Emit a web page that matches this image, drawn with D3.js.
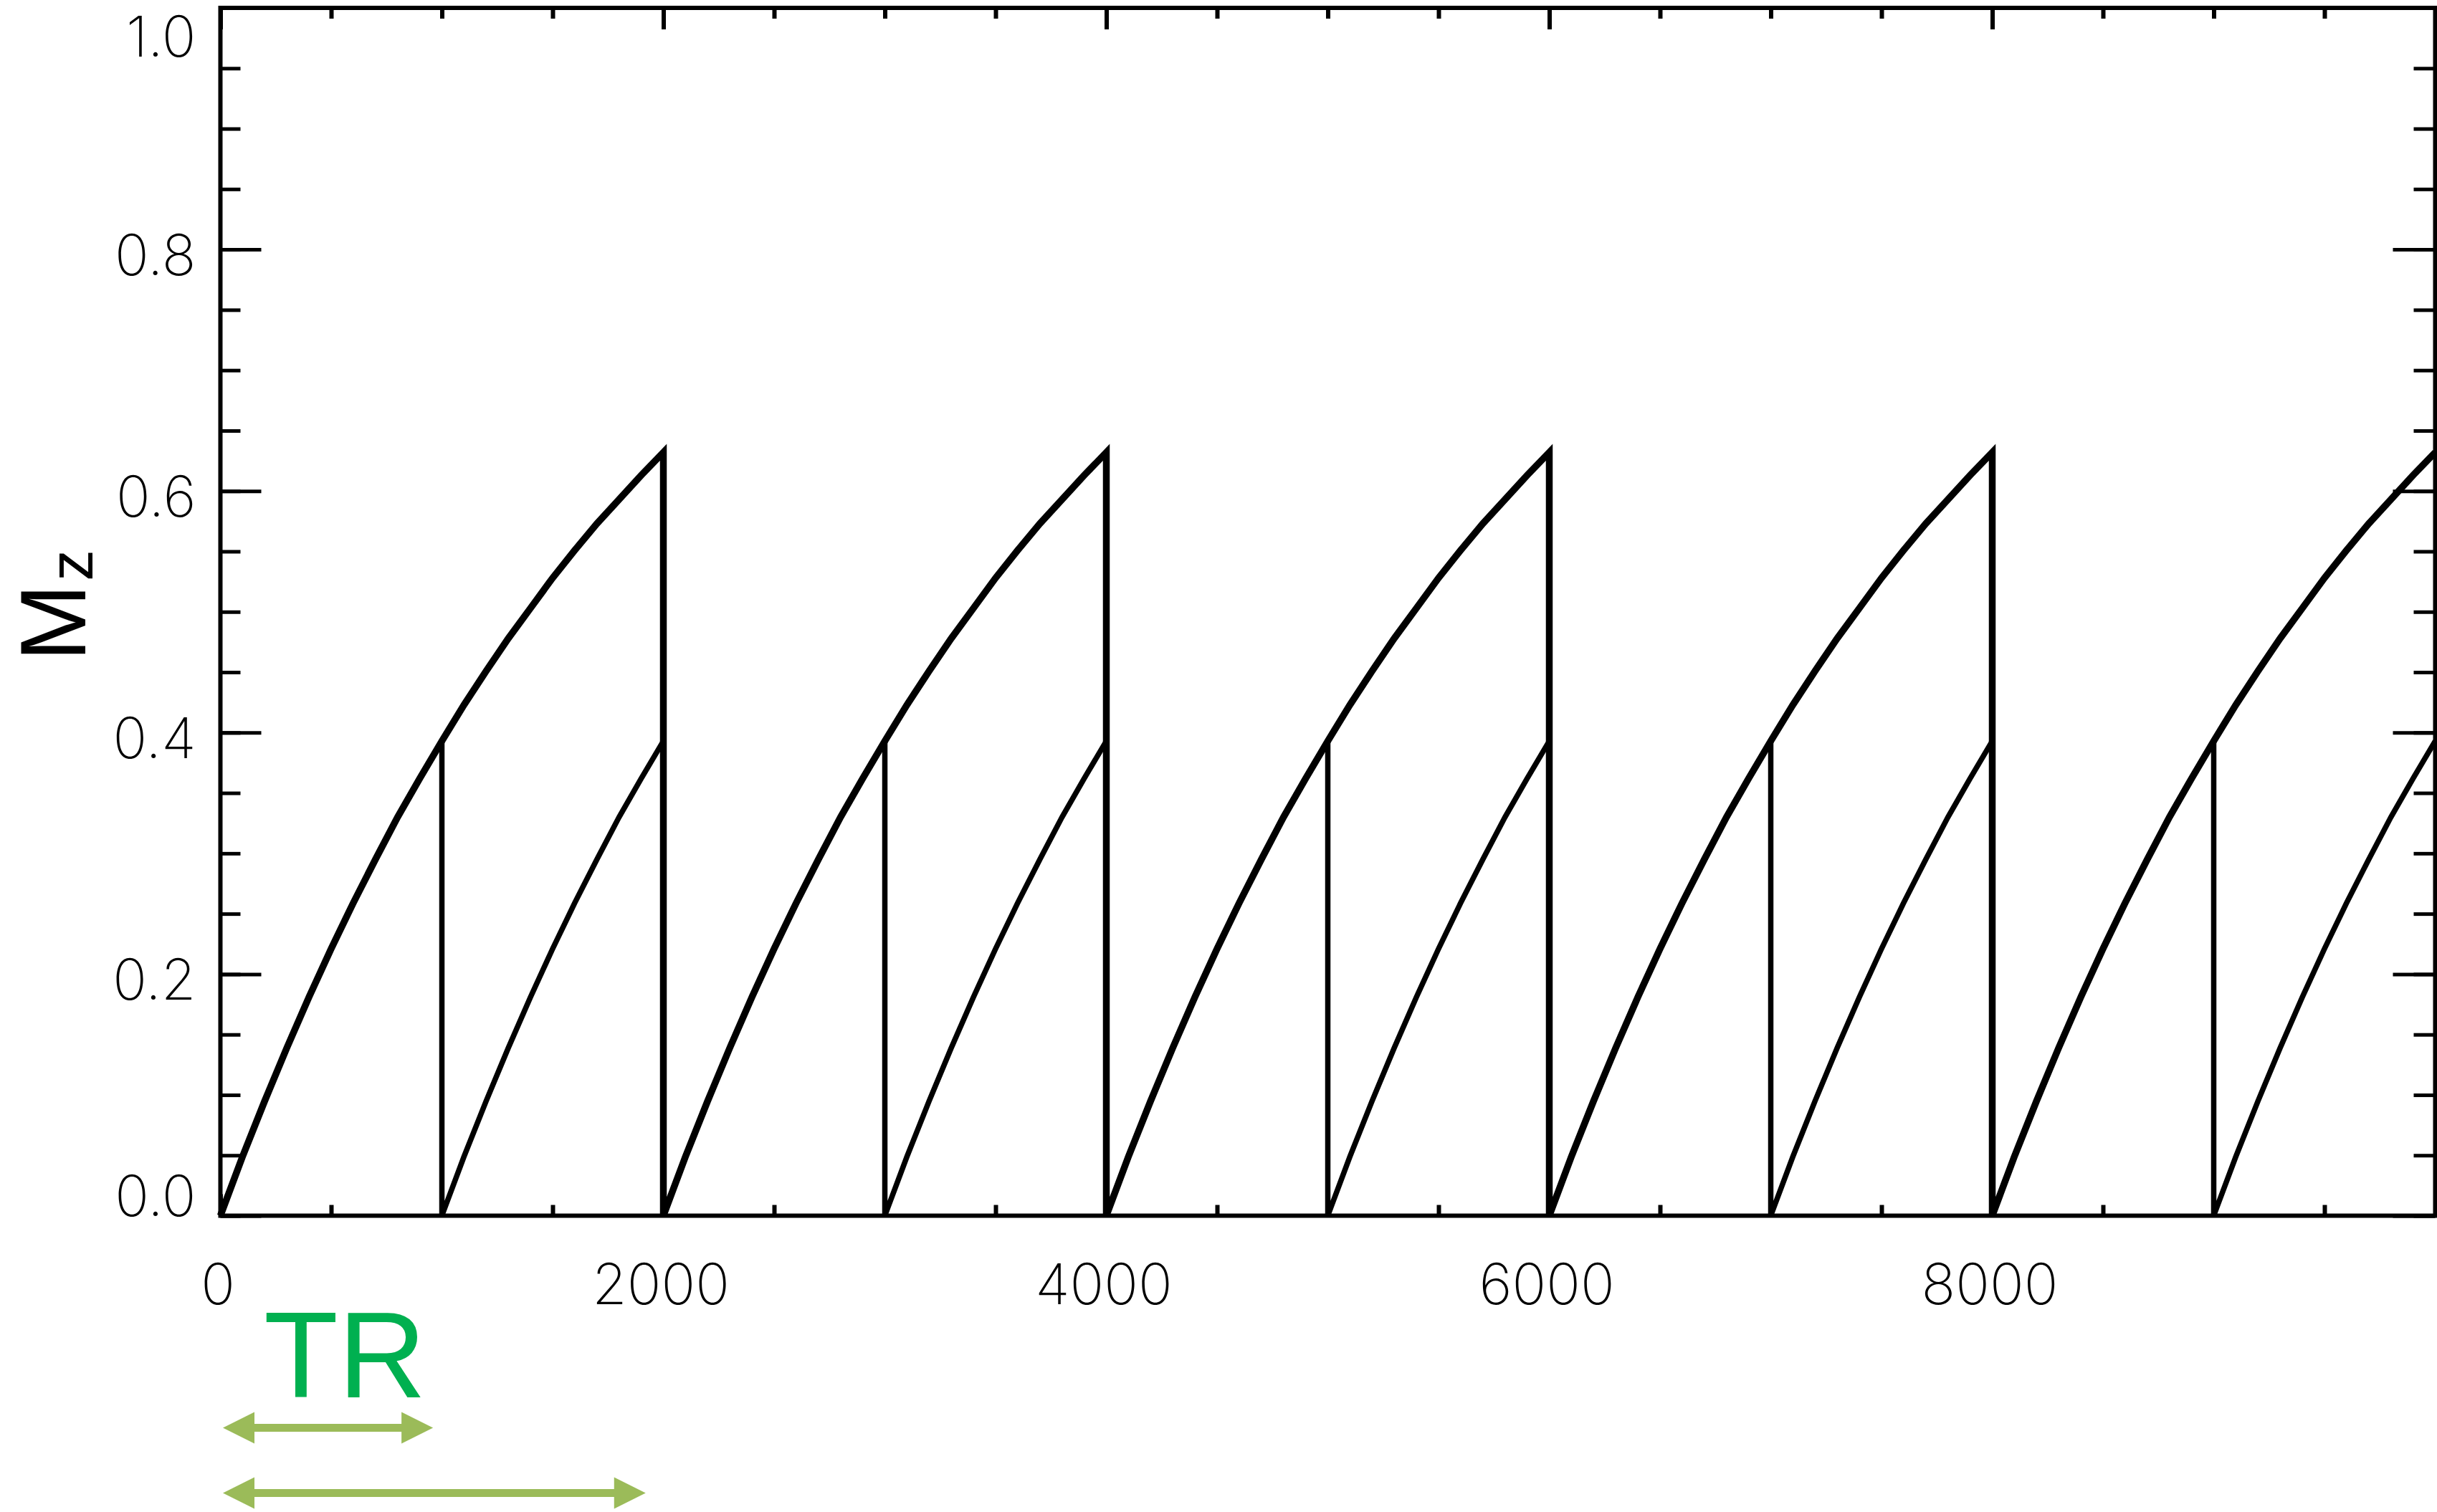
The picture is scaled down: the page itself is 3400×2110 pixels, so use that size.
<!DOCTYPE html>
<html>
<head>
<meta charset="utf-8">
<script src="https://cdn.jsdelivr.net/npm/d3@7"></script>
<style>
  html, body { margin: 0; padding: 0; background: #fff; }
  svg { display: block; }
</style>
</head>
<body>
<svg id="chart" width="3400" height="2110"></svg>
<script>
// Longitudinal magnetisation recovery after each pulse (time since pulse, ms)
const recoveryTime = [0, 100, 200, 300, 400, 500, 600, 700, 800, 900, 1000,
                      1100, 1200, 1300, 1400, 1500, 1600, 1700, 1800, 1900, 2000];
const mzRecovery   = [0.000, 0.049, 0.095, 0.139, 0.181, 0.221, 0.259, 0.295, 0.330, 0.362, 0.393,
                      0.423, 0.451, 0.478, 0.503, 0.528, 0.551, 0.573, 0.593, 0.613, 0.632];

// Two repetition times and the pulse instants of each train
const repetitionTimes = [2000, 1000];
const pulsesLongTR  = [0, 2000, 4000, 6000, 8000];
const pulsesShortTR = [0, 1000, 2000, 3000, 4000, 5000, 6000, 7000, 8000, 9000];

// Axis ticks
const xTickLabels = [0, 2000, 4000, 6000, 8000];
const yTickLabels = [0.0, 0.2, 0.4, 0.6, 0.8, 1.0];

const svg = d3.select("#chart");
const W = 3400, H = 2110;
const plot = { left: 307.5, right: 3397.5, top: 11, bottom: 1696.5 };

const x = d3.scaleLinear().domain([0, 10000]).range([plot.left, plot.right]);
const y = d3.scaleLinear().domain([0, 1]).range([plot.bottom, plot.top]);

svg.append("rect").attr("width", W).attr("height", H).attr("fill", "#fff");

// Build the saw-tooth trace of one pulse train
function trainPoints(pulses, tr) {
  const pts = [];
  pulses.forEach(p => {
    recoveryTime.forEach((t, i) => {
      if (t <= tr) pts.push({ t: p + t, mz: mzRecovery[i] });
    });
  });
  return pts;
}

const line = d3.line().x(d => x(d.t)).y(d => y(d.mz));

const trains = [
  { pts: trainPoints(pulsesLongTR, repetitionTimes[0]), width: 9.5 },
  { pts: trainPoints(pulsesShortTR, repetitionTimes[1]), width: 7.5 }
];

svg.append("g").selectAll("path")
  .data(trains)
  .join("path")
  .attr("d", d => line(d.pts))
  .attr("fill", "none")
  .attr("stroke", "#000")
  .attr("stroke-width", d => d.width)
  .attr("stroke-linejoin", "miter")
  .attr("stroke-miterlimit", 4);

// ---- Axes (ticks point inward on all four sides) ----
const tickFont = "Inter, 'DejaVu Sans', sans-serif";

function styleAxis(g, width) {
  g.select(".domain").remove();
  g.selectAll(".tick line").attr("stroke", "#000").attr("stroke-width", width);
}

// Left: major with labels, minor without
const yMinor = d3.range(0, 1.0001, 0.05);
svg.append("g").attr("transform", `translate(${plot.left},0)`)
  .call(d3.axisLeft(y).tickValues(yMinor).tickSize(-28).tickFormat(""))
  .call(g => styleAxis(g, 5));
const yAxisLeft = svg.append("g").attr("transform", `translate(${plot.left},0)`)
  .call(d3.axisLeft(y).tickValues(yTickLabels).tickSize(-57).tickPadding(34)
        .tickFormat(d3.format(".1f")))
  .call(g => styleAxis(g, 5));
yAxisLeft.selectAll(".tick text")
  .attr("font-family", tickFont).attr("font-weight", 200)
  .attr("font-size", 79).attr("fill", "#000")
  .attr("dy", null)
  .attr("y", d => {
    // baseline just under the tick; end labels kept inside the page and axis
    const base = y(d) + 35;
    const lo = 78, hi = plot.bottom;
    return Math.max(lo, Math.min(hi, base)) - y(d);
  });

// Right
svg.append("g").attr("transform", `translate(${plot.right},0)`)
  .call(d3.axisRight(y).tickValues(yMinor).tickSize(-30).tickFormat(""))
  .call(g => styleAxis(g, 5));
svg.append("g").attr("transform", `translate(${plot.right},0)`)
  .call(d3.axisRight(y).tickValues(yTickLabels).tickSize(-59).tickFormat(""))
  .call(g => styleAxis(g, 5));

// Bottom and top
const xMinor = d3.range(0, 10001, 500);
const xMajor = d3.range(0, 10001, 2000);
svg.append("g").attr("transform", `translate(0,${plot.bottom})`)
  .call(d3.axisBottom(x).tickValues(xMinor).tickSize(-15).tickFormat(""))
  .call(g => styleAxis(g, 6));
const xAxisBottom = svg.append("g").attr("transform", `translate(0,${plot.bottom})`)
  .call(d3.axisBottom(x).tickValues(xTickLabels).tickSize(-30).tickPadding(0)
        .tickFormat(d3.format("d")))
  .call(g => styleAxis(g, 6));
xAxisBottom.selectAll(".tick text")
  .attr("font-family", tickFont).attr("font-weight", 200)
  .attr("font-size", 79).attr("fill", "#000")
  .attr("dy", null).attr("x", -4).attr("y", 1820 - plot.bottom);
svg.append("g").attr("transform", `translate(0,${plot.top})`)
  .call(d3.axisTop(x).tickValues(xMinor).tickSize(-15).tickFormat(""))
  .call(g => styleAxis(g, 6));
svg.append("g").attr("transform", `translate(0,${plot.top})`)
  .call(d3.axisTop(x).tickValues(xMajor).tickSize(-30).tickFormat(""))
  .call(g => styleAxis(g, 6));

// Plot frame
svg.append("rect")
  .attr("x", plot.left).attr("y", plot.top)
  .attr("width", plot.right - plot.left).attr("height", plot.bottom - plot.top)
  .attr("fill", "none").attr("stroke", "#000").attr("stroke-width", 6);

// Y axis title: M with subscript z
const yTitle = svg.append("text")
  .attr("transform", "translate(119,923) rotate(-90)")
  .attr("font-family", "'Liberation Sans', Arial, sans-serif")
  .attr("font-size", 130).attr("fill", "#000");
yTitle.append("tspan").text("M");
yTitle.append("tspan").attr("font-size", 87).attr("dy", 10).attr("dx", 4).text("z");

// TR annotation with double-headed arrows spanning each repetition time
svg.append("text")
  .attr("x", 368).attr("y", 1950)
  .attr("font-family", "'Liberation Sans', Arial, sans-serif")
  .attr("font-size", 170).attr("fill", "#00B050")
  .text("TR");

function doubleArrow(x0, x1, yc) {
  const hl = 44, hh = 22, sh = 5.5;
  return `M${x0},${yc} L${x0 + hl},${yc - hh} L${x0 + hl},${yc - sh} L${x1 - hl},${yc - sh}
          L${x1 - hl},${yc - hh} L${x1},${yc} L${x1 - hl},${yc + hh} L${x1 - hl},${yc + sh}
          L${x0 + hl},${yc + sh} L${x0 + hl},${yc + hh} Z`;
}
const arrowRows = [1992.5, 2083.5];
const shortFirst = [repetitionTimes[1], repetitionTimes[0]];
svg.append("g").selectAll("path")
  .data(shortFirst)
  .join("path")
  .attr("d", (tr, i) => doubleArrow(x(0) + 3.5, x(0) + (x(tr) - x(0)) * 0.96, arrowRows[i]))
  .attr("fill", "#9BBB59");
</script>
</body>
</html>
